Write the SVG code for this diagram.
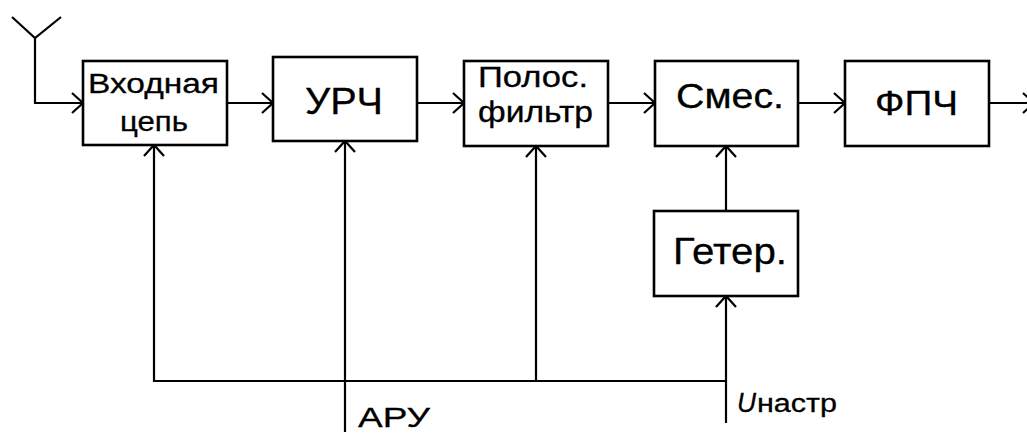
<svg xmlns="http://www.w3.org/2000/svg" width="1027" height="433" viewBox="0 0 1027 433">
<style>
.box{fill:#fff;stroke:#000;stroke-width:2.6}
.ln{fill:none;stroke:#000;stroke-width:2.2}
.t{font-family:"Liberation Sans",Arial,sans-serif;fill:#000;stroke:#000;stroke-width:0.3}
</style>
<defs>
<marker id="arr" markerUnits="userSpaceOnUse" markerWidth="30" markerHeight="30" refX="0" refY="0" viewBox="-15 -15 30 30" orient="auto">
<path d="M-11,-10 L0,0 L-11,10" fill="none" stroke="#000" stroke-width="2.2"/>
</marker>
</defs>
<rect width="1027" height="433" fill="#fff"/>
<g id="connectors">
<path class="ln" d="M12,17 L35,38 L61,17 M35,38 L35,103 L83,103" marker-end="url(#arr)"/>
<line class="ln" x1="227" y1="103" x2="273" y2="103" marker-end="url(#arr)"/>
<line class="ln" x1="417" y1="103" x2="464" y2="103" marker-end="url(#arr)"/>
<line class="ln" x1="608" y1="103" x2="655" y2="103" marker-end="url(#arr)"/>
<line class="ln" x1="798" y1="103" x2="845" y2="103" marker-end="url(#arr)"/>
<line class="ln" x1="989" y1="103" x2="1034" y2="103" marker-end="url(#arr)"/>
<path class="ln" d="M726,381 L154,381 L154,145" marker-end="url(#arr)"/>
<line class="ln" x1="536" y1="381" x2="536" y2="146" marker-end="url(#arr)"/>
<line class="ln" x1="345" y1="432" x2="345" y2="141" marker-end="url(#arr)"/>
<line class="ln" x1="726" y1="423" x2="726" y2="296" marker-end="url(#arr)"/>
<line class="ln" x1="726" y1="211" x2="726" y2="146" marker-end="url(#arr)"/>
</g>
<g id="vhod">
<rect class="box" x="83" y="61" width="144" height="84"/>
<text class="t" x="88" y="93" font-size="28" textLength="131" lengthAdjust="spacingAndGlyphs">Входная</text>
<text class="t" x="120" y="131" font-size="28" textLength="68" lengthAdjust="spacingAndGlyphs">цепь</text>
</g>
<g id="urch">
<rect class="box" x="273" y="57" width="144" height="84"/>
<text class="t" x="305" y="114" font-size="36" textLength="78" lengthAdjust="spacingAndGlyphs">УРЧ</text>
</g>
<g id="polos">
<rect class="box" x="464" y="61" width="144" height="85"/>
<text class="t" x="478" y="87" font-size="29" textLength="110" lengthAdjust="spacingAndGlyphs">Полос.</text>
<text class="t" x="478" y="122" font-size="29" textLength="115" lengthAdjust="spacingAndGlyphs">фильтр</text>
</g>
<g id="smes">
<rect class="box" x="655" y="61" width="143" height="85"/>
<text class="t" x="676" y="108" font-size="35" textLength="108" lengthAdjust="spacingAndGlyphs">Смес.</text>
</g>
<g id="fpch">
<rect class="box" x="845" y="61" width="144" height="85"/>
<text class="t" x="875" y="115" font-size="35" textLength="83" lengthAdjust="spacingAndGlyphs">ФПЧ</text>
</g>
<g id="geter">
<rect class="box" x="654" y="211" width="144" height="85"/>
<text class="t" x="673" y="264" font-size="37" textLength="114" lengthAdjust="spacingAndGlyphs">Гетер.</text>
</g>
<g id="labels">
<text class="t" x="358" y="427" font-size="28" textLength="72" lengthAdjust="spacingAndGlyphs">АРУ</text>
<text class="t" x="737" y="412" font-size="27" font-style="italic" textLength="19" lengthAdjust="spacingAndGlyphs">U</text>
<text class="t" x="757" y="412" font-size="25" textLength="80" lengthAdjust="spacingAndGlyphs">настр</text>
</g>
</svg>
